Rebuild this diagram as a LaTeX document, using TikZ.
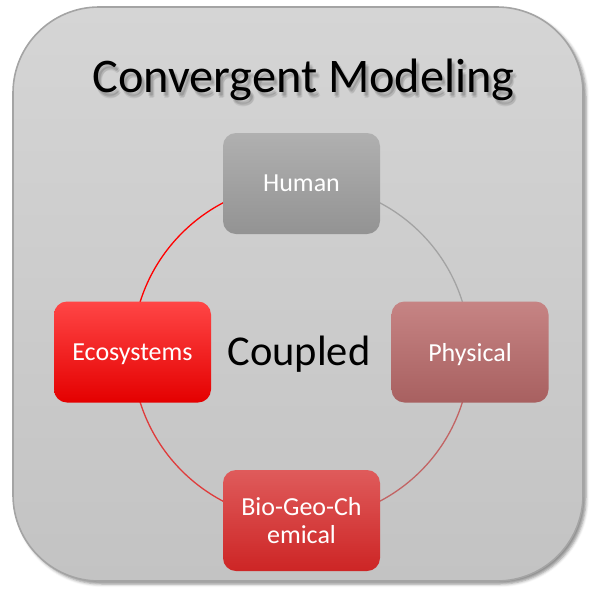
\documentclass[tikz,border=0pt]{standalone}
\usepackage{fontspec}
\setmainfont{Carlito}
\usetikzlibrary{shadows.blur}

\definecolor{frameline}{HTML}{A4A4A4}
\definecolor{frametop}{HTML}{D5D5D5}
\definecolor{framebot}{HTML}{C3C3C3}
\definecolor{humtop}{HTML}{B0B0B0}
\definecolor{humbot}{HTML}{939393}
\definecolor{ecotop}{HTML}{FF4646}
\definecolor{ecomid}{HTML}{FF0000}
\definecolor{ecobot}{HTML}{E40000}
\definecolor{phytop}{HTML}{C68484}
\definecolor{phybot}{HTML}{A86060}
\definecolor{biotop}{HTML}{DF5B5B}
\definecolor{biobot}{HTML}{CD2525}
\definecolor{arcgray}{HTML}{A3A3A3}
\definecolor{arcred}{HTML}{FF0000}
\definecolor{arcdeep}{HTML}{DF3B3B}
\definecolor{arcrose}{HTML}{C26464}

\pgfdeclarelayer{backdrop}
\pgfdeclarelayer{ring}
\pgfsetlayers{backdrop,ring,main}

\begin{document}
\begin{tikzpicture}[x=1pt,y=-1pt,
  unitbox/.style={rectangle, rounded corners=13pt, minimum width=157pt,
    minimum height=101pt, inner sep=0pt, text=white, draw=none,
    font=\fontsize{26}{28}\selectfont},
  oneline/.style={unitbox, text depth=0pt},
  ringline/.style={line width=1.3pt},
  titlefont/.style={font=\fontsize{48.3}{56}\selectfont}
]
\useasboundingbox (0,0) rectangle (595,590);

% outer panel
\begin{pgfonlayer}{backdrop}
  \draw[rounded corners=86pt, draw=frameline, line width=1.6pt,
        top color=frametop, bottom color=framebot,
        blur shadow={shadow xshift=3pt, shadow yshift=-3pt,
                     shadow blur radius=3pt, shadow opacity=45}]
    (13,7) rectangle (583,581);
\end{pgfonlayer}

% title with a soft shadow
\foreach \dx/\dy [count=\k] in {2/4,4/5,3/6,3/3}
  \node[titlefont, anchor=base, text=black, opacity=0.07] (tshadow\k)
    at (303.5+\dx, 92+\dy) {Convergent Modeling};
\node[titlefont, anchor=base, text=black] (title) at (303.5,92) {Convergent Modeling};

% the four components
\node[oneline, top color=humtop, bottom color=humbot] (hum) at (301.5,183.5) {Human};
\node[oneline, top color=ecotop, middle color=ecomid, bottom color=ecobot] (eco) at (132.5,352) {Ecosystems};
\node[oneline, top color=phytop, bottom color=phybot] (phy) at (470,352) {Physical};
\node[unitbox, align=center, top color=biotop, bottom color=biobot] (bio) at (301.5,520.5) {Bio-Geo-Ch\\emical};

\node[font=\fontsize{42.5}{50}\selectfont, anchor=base, text=black] (cpl) at (299,365) {Coupled};

% coupling ring
\begin{pgfonlayer}{ring}
  \draw[ringline, arcred]  (hum.center) .. controls +(-93,0) and +(0,-93) .. (eco.center);
  \draw[ringline, arcgray] (hum.center) .. controls +(93,0) and +(0,-93) .. (phy.center);
  \draw[ringline, arcdeep] (eco.center) .. controls +(0,93) and +(-93,0) .. (bio.center);
  \draw[ringline, arcrose] (phy.center) .. controls +(0,93) and +(93,0) .. (bio.center);
\end{pgfonlayer}
\end{tikzpicture}
\end{document}
